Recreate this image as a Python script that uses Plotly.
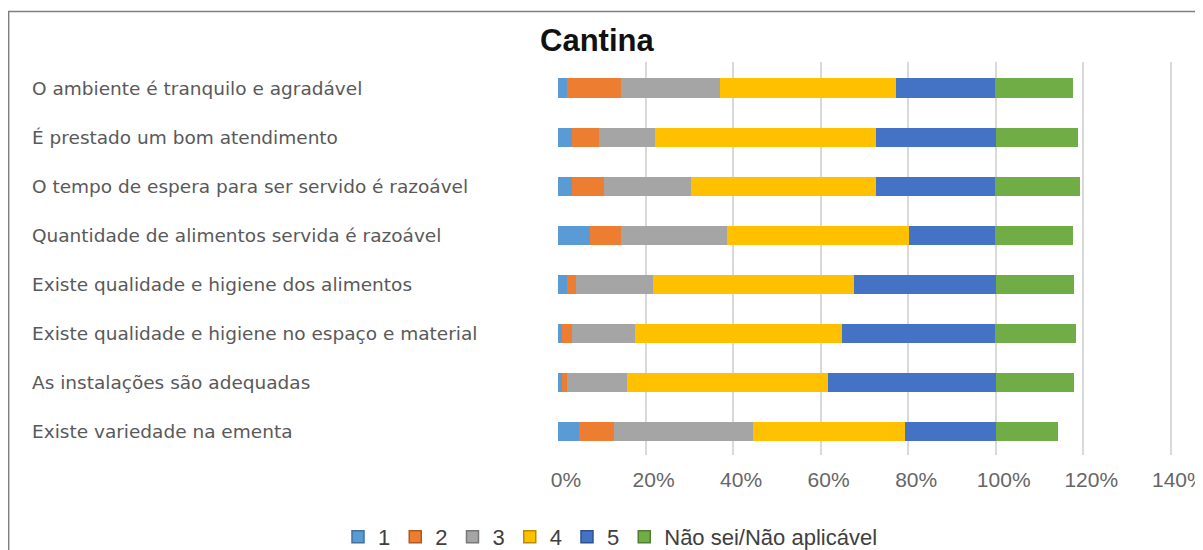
import plotly.graph_objects as go

categories = [
    "O ambiente é tranquilo e agradável",
    "É prestado um bom atendimento",
    "O tempo de espera para ser servido é razoável",
    "Quantidade de alimentos servida é razoável",
    "Existe qualidade e higiene dos alimentos",
    "Existe qualidade e higiene no espaço e material",
    "As instalações são adequadas",
    "Existe variedade na ementa",
]

series_names = ["1", "2", "3", "4", "5", "Não sei/Não aplicável"]

# percentages per answer, one value per question
s1 = [2.0, 3.1, 3.1, 7.2, 2.0, 1.0, 1.0, 4.7]
s2 = [12.5, 6.3, 7.3, 7.3, 2.2, 2.1, 1.1, 8.2]
s3 = [22.4, 12.7, 20.0, 24.0, 17.5, 14.4, 13.6, 31.6]
s4 = [40.4, 50.6, 42.2, 41.6, 45.9, 47.4, 45.9, 34.7]
s5 = [22.6, 27.3, 27.3, 19.8, 32.4, 35.0, 38.4, 20.8]
ns = [17.8, 18.8, 19.3, 17.8, 17.8, 18.5, 17.8, 14.3]

tick_vals = [0, 20, 40, 60, 80, 100, 120, 140]
tick_text = [f"{v}%" for v in tick_vals]

colors = ["#5B9BD5", "#ED7D31", "#A5A5A5", "#FFC000", "#4472C4", "#70AD47"]
borders = ["#41719C", "#AE5A21", "#787878", "#BC8C00", "#2F528F", "#507E32"]

# the page body adds an 8px margin, so the figure is drawn 8px in
OFF = 8
W, H = 1203 - OFF, 550 - OFF
L, R, T, B = 558 - OFF, 29.8, 62 - OFF, 95
pw, ph = W - L - R, H - T - B


def px_x(x):
    return (x - OFF - L) / pw


def px_y(y):
    return (H - B - (y - OFF)) / ph


fig = go.Figure()

for name, vals, col in zip(series_names, [s1, s2, s3, s4, s5, ns], colors):
    fig.add_trace(go.Bar(
        x=vals, y=categories, orientation="h", name=name,
        marker=dict(color=col, line=dict(width=0)),
        showlegend=False,
    ))

# legend entries with darker outline like the original
for name, col, bc in zip(series_names, colors, borders):
    fig.add_trace(go.Bar(
        x=[None], y=[None], orientation="h", name=name,
        marker=dict(color=col, line=dict(color=bc, width=1.5)),
    ))

for cat in categories:
    fig.add_annotation(
        x=px_x(30), xref="paper", y=cat, yref="y",
        text=cat, showarrow=False, xanchor="left", yanchor="middle",
        font=dict(family="DejaVu Sans", size=18.5, color="#595959"),
    )

# title and the cut-off heading above the frame
fig.add_annotation(
    x=px_x(597), xref="paper", y=px_y(40), yref="paper",
    text="<b>Cantina</b>", showarrow=False, xanchor="center", yanchor="middle",
    font=dict(family="Liberation Sans", size=31, color="#111111"),
)
fig.add_annotation(
    x=px_x(22), xref="paper", y=px_y(9), yref="paper",
    text="<b>Cantina</b>", showarrow=False, xanchor="left", yanchor="bottom",
    font=dict(family="Liberation Sans", size=25, color="#111111"),
)

fig.add_shape(
    type="rect", xref="paper", yref="paper",
    x0=px_x(8.5), x1=px_x(1260), y0=px_y(11.5), y1=px_y(600),
    line=dict(color="#7f7f7f", width=1.5), fillcolor="rgba(0,0,0,0)",
)

fig.update_layout(
    width=W, height=H,
    margin=dict(l=L, r=R, t=T, b=B, autoexpand=False),
    barmode="stack",
    bargap=0.61,
    plot_bgcolor="white",
    paper_bgcolor="white",
    font=dict(family="Liberation Sans", color="#404040"),
    xaxis=dict(
        range=[0, 140.5], tickvals=tick_vals, ticktext=tick_text,
        showgrid=True, gridcolor="#d9d9d9", gridwidth=2,
        zeroline=False, showline=False,
        tickfont=dict(family="Liberation Sans", size=21, color="#666666"),
        ticklabelstandoff=10, ticklabelshift=8, ticklabeloverflow="allow",
    ),
    yaxis=dict(
        categoryorder="array", categoryarray=categories,
        range=[7.47, -0.53], showticklabels=False,
        showgrid=False, zeroline=False, showline=False,
    ),
    legend=dict(
        orientation="h", xref="container", yref="container",
        x=(338 - OFF) / W, xanchor="left",
        y=1 - (537 - OFF) / H, yanchor="middle",
        font=dict(family="Liberation Sans", size=22, color="#404040"),
        itemwidth=30, traceorder="normal",
    ),
)

fig.write_html("out.html")
